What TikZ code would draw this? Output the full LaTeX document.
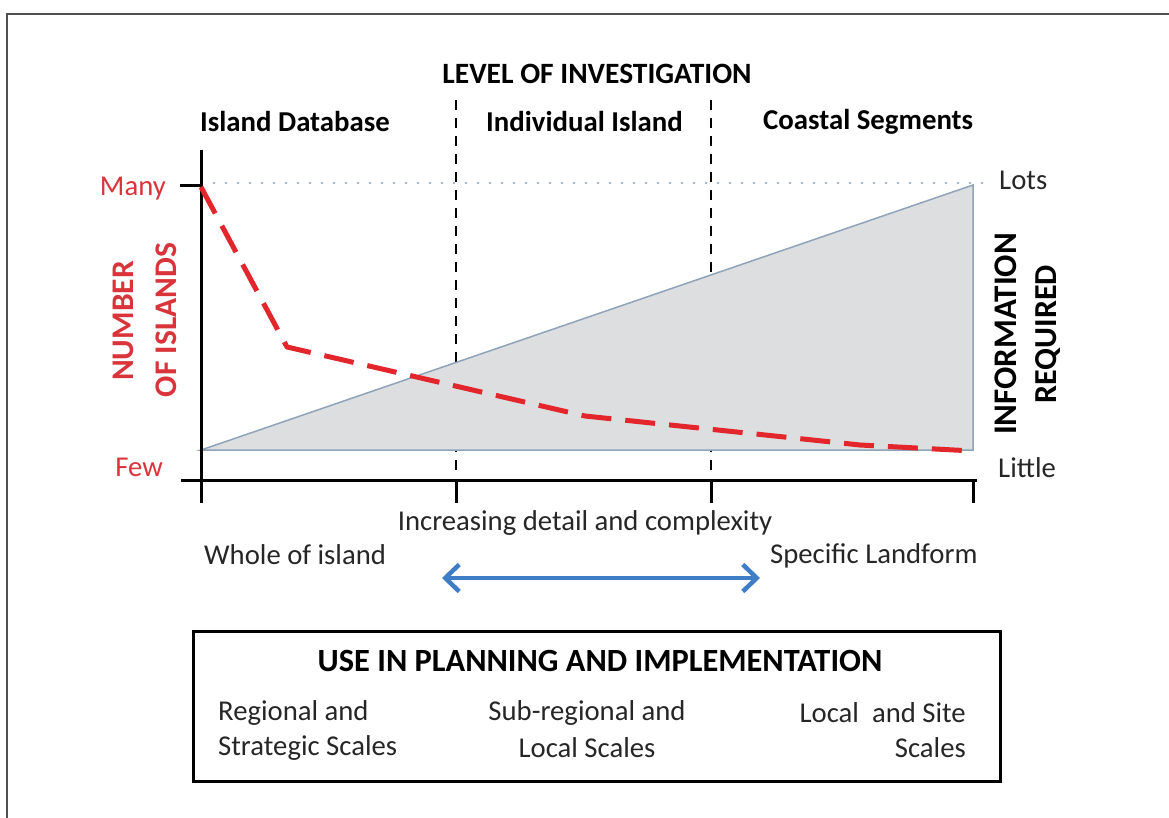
\documentclass[tikz,border=0pt]{standalone}
\usepackage{fontspec}
\setmainfont{Carlito}
\usetikzlibrary{arrows.meta}
\definecolor{redline}{HTML}{E3262B}
\definecolor{redtext}{HTML}{D9343A}
\definecolor{triborder}{HTML}{8FA3BA}
\definecolor{trifill}{HTML}{DDDEE0}
\definecolor{arrowblue}{HTML}{3F7EC6}
\definecolor{framegray}{HTML}{505050}
\definecolor{txt}{HTML}{262626}
\tikzset{
  lbl/.style={font=\fontsize{28.7}{33}\selectfont, text=txt, inner sep=0pt},
  hdr/.style={font=\fontsize{28.8}{33}\selectfont\bfseries, text=black, inner sep=0pt},
  redlbl/.style={font=\fontsize{28.7}{33}\selectfont, text=redtext, inner sep=0pt},
  redhdr/.style={font=\fontsize{31.5}{36}\selectfont\bfseries, text=redtext, inner sep=0pt, rotate=90},
  sidehdr/.style={font=\fontsize{32}{36}\selectfont\bfseries, text=black, inner sep=0pt, rotate=90},
  axisline/.style={line width=3pt, black},
  divider/.style={line width=2.5pt, black, dash pattern=on 10pt off 8pt},
  redcurve/.style={line width=5pt, redline, dash pattern=on 30pt off 14pt, line join=round},
  tri/.style={fill=trifill, draw=triborder, line width=1.5pt},
  dotline/.style={line width=1.5pt, triborder!80, dash pattern=on 2pt off 10pt},
  bluearrow/.style={line width=4.5pt, arrowblue, {Straight Barb[length=14pt,width=27pt,line width=4.5pt]}-{Straight Barb[length=14pt,width=27pt,line width=4.5pt]}},
  framebox/.style={line width=3pt, black},
  outerframe/.style={line width=2pt, framegray}
}
\begin{document}
\begin{tikzpicture}[x=1pt,y=-1pt]
\useasboundingbox (0,0) rectangle (1169,818);
% outer frame
\coordinate (fTL) at (7,14);
\coordinate (fTR) at (1169,14);
\coordinate (fBL) at (7,818);
\draw[outerframe] (fTR) -- (fTL) -- (fBL);

% dividers (behind triangle)
\coordinate (d1t) at (456,100);
\coordinate (d1b) at (456,472);
\coordinate (d2t) at (711,100);
\coordinate (d2b) at (711,472);
\draw[divider] (d1t) -- (d1b);
\draw[divider] (d2t) -- (d2b);

% dotted top line
\coordinate (dotL) at (201,183);
\coordinate (dotR) at (988,183);
\draw[dotline] (dotL) -- (dotR);

% triangle
\coordinate (tA) at (201,450);
\coordinate (tB) at (973,185);
\coordinate (tC) at (973,450);
\draw[tri] (tA) -- (tB) -- (tC) -- cycle;

% axes
\coordinate (yTop) at (201,150);
\coordinate (origin) at (201,480);
\coordinate (yBot) at (201,503);
\coordinate (xLeft) at (181,480);
\coordinate (xRight) at (977,480);
\draw[axisline] (yTop) -- (yBot);
\draw[axisline] (xLeft) -- (xRight);
\coordinate (manyTickL) at (180,186);
\coordinate (manyTickR) at (201,186);
\draw[axisline] (manyTickL) -- (manyTickR);
\foreach \x/\n in {456/a,711/b,973/c}{
  \coordinate (tk\n t) at (\x,480);
  \coordinate (tk\n b) at (\x,503);
  \draw[axisline] (tk\n t) -- (tk\n b);
}

% red curve
\coordinate (r1) at (201,187);
\coordinate (r2) at (287,347);
\coordinate (r3) at (585,416);
\coordinate (r4) at (860,445);
\coordinate (r5) at (973,451);
\draw[redcurve] (r1) -- (r2) -- (r3) -- (r4) -- (r5);

% titles
\node[hdr, font=\fontsize{29.5}{34}\selectfont\bfseries] (title) at (597,74) {LEVEL OF INVESTIGATION};
\node[hdr, anchor=west] (h1) at (200,122) {Island Database};
\node[hdr, anchor=west] (h2) at (486,122) {Individual Island};
\node[hdr, anchor=west] (h3) at (763,122) {Coastal Segments};

% left axis labels
\node[redlbl, anchor=east] (many) at (166,189) {Many};
\node[redlbl, anchor=east] (few) at (163,467) {Few};
\node[redhdr] (num1) at (123,321) {NUMBER};
\node[redhdr] (num2) at (166,320) {OF ISLANDS};

% right labels
\node[lbl, anchor=west] (lots) at (999,180) {Lots};
\node[lbl, anchor=west] (little) at (998,468) {Little};
\node[sidehdr, font=\fontsize{33}{37}\selectfont\bfseries] (inf1) at (1006,334) {INFORMATION};
\node[sidehdr] (inf2) at (1048,334) {REQUIRED};

% below axis
\node[lbl] (incr) at (585,523) {Increasing detail and complexity};
\node[lbl, anchor=west] (whole) at (204,555) {Whole of island};
\node[lbl, anchor=west] (spec) at (770,556) {Specific Landform};
\coordinate (arL) at (442,578);
\coordinate (arR) at (760,578);
\draw[bluearrow] (arL) -- (arR);

% box
\coordinate (bx1) at (193,631);
\coordinate (bx2) at (1000,781);
\draw[framebox] (bx1) rectangle (bx2);
\node[hdr, font=\fontsize{32.4}{37}\selectfont\bfseries] (use) at (600,661) {USE IN PLANNING AND IMPLEMENTATION};
\node[lbl, anchor=west] (reg1) at (218,713) {Regional and};
\node[lbl, anchor=west] (reg2) at (218,748) {Strategic Scales};
\node[lbl] (sub1) at (587,713) {Sub-regional and};
\node[lbl] (sub2) at (587,748) {Local Scales};
\node[lbl, anchor=east] (loc1) at (966,713) {Local\ \ and Site};
\node[lbl, anchor=east] (loc2) at (966,748) {Scales};
\end{tikzpicture}
\end{document}
